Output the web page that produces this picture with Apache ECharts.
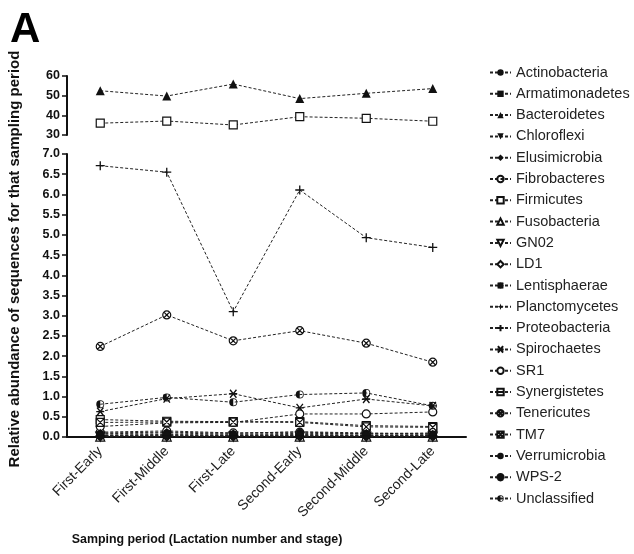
<!DOCTYPE html>
<html><head><meta charset="utf-8">
<script src="https://cdn.jsdelivr.net/npm/echarts@6/dist/echarts.min.js"></script>
<style>html,body{margin:0;padding:0;background:#fff}#c{width:634px;height:554px}</style>
</head><body><div id="c"></div>
<script>
const categories = ['First-Early','First-Middle','First-Late','Second-Early','Second-Middle','Second-Late'];
const upperTicks = [30, 40, 50, 60];
const lowerTicks = [0, 0.5, 1, 1.5, 2, 2.5, 3, 3.5, 4, 4.5, 5, 5.5, 6, 6.5, 7];

const Actinobacteria  = [0.05, 0.06, 0.05, 0.06, 0.05, 0.05];
const Armatimonadetes = [0.01, 0.01, 0.01, 0.01, 0.01, 0.01];
const Bacteroidetes   = [52.5, 49.8, 55.9, 48.5, 51.2, 53.6];
const Chloroflexi     = [0.03, 0.02, 0.03, 0.03, 0.02, 0.02];
const Elusimicrobia   = [0.02, 0.02, 0.02, 0.02, 0.02, 0.02];
const Fibrobacteres   = [0.12, 0.15, 0.10, 0.12, 0.08, 0.10];
const Firmicutes      = [36.0, 37.1, 35.1, 39.3, 38.5, 37.0];
const Fusobacteria    = [0.01, 0.01, 0.01, 0.01, 0.01, 0.01];
const GN02            = [0.01, 0.01, 0.01, 0.01, 0.01, 0.01];
const LD1             = [0.02, 0.02, 0.02, 0.02, 0.02, 0.02];
const Lentisphaerae   = [0.08, 0.10, 0.07, 0.09, 0.08, 0.07];
const Planctomycetes  = [0.04, 0.05, 0.04, 0.05, 0.04, 0.04];
const Proteobacteria  = [6.71, 6.55, 3.10, 6.11, 4.93, 4.69];
const Spirochaetes    = [0.63, 0.95, 1.07, 0.72, 0.94, 0.77];
const SR1             = [0.26, 0.35, 0.36, 0.57, 0.57, 0.62];
const Synergistetes   = [0.43, 0.39, 0.38, 0.38, 0.28, 0.26];
const Tenericutes     = [2.24, 3.02, 2.38, 2.63, 2.32, 1.85];
const TM7             = [0.36, 0.37, 0.37, 0.36, 0.25, 0.24];
const Verrumicrobia   = [0.10, 0.12, 0.09, 0.13, 0.10, 0.08];
const WPS2            = [0.03, 0.03, 0.03, 0.03, 0.03, 0.03];
const Unclassified    = [0.81, 0.98, 0.86, 1.05, 1.09, 0.77];

const C = 'path://M0,10A10,10 0 1,1 20,10A10,10 0 1,1 0,10Z';
const SQ = 'path://M0,0L20,0L20,20L0,20Z';
const FILLED = {color:'#111', borderColor:'#111', borderWidth:0};
const HOLLOW = {color:'#fff', borderColor:'#111', borderWidth:1.2};
const STROKE = {color:'rgba(0,0,0,0)', borderColor:'#111', borderWidth:1.3};

const seriesDefs = [
  ['Actinobacteria', Actinobacteria, 'circle', FILLED, 0, 8],
  ['Armatimonadetes', Armatimonadetes, 'rect', FILLED, 0, 8],
  ['Bacteroidetes', Bacteroidetes, 'triangle', FILLED, 0, 9],
  ['Chloroflexi', Chloroflexi, 'triangle', FILLED, 180, 9],
  ['Elusimicrobia', Elusimicrobia, 'diamond', FILLED, 0, 9],
  ['Fibrobacteres', Fibrobacteres, C + 'M10,10L20,10', HOLLOW, 0, 8],
  ['Firmicutes', Firmicutes, SQ, HOLLOW, 0, 8],
  ['Fusobacteria', Fusobacteria, 'triangle', HOLLOW, 0, 9],
  ['GN02', GN02, 'triangle', HOLLOW, 180, 9],
  ['LD1', LD1, 'diamond', HOLLOW, 0, 9],
  ['Lentisphaerae', Lentisphaerae, 'path://M4,4L16,4L16,16L4,16Z M10,0L10,20M0,10L20,10M2,2L18,18M18,2L2,18', {color:'#111', borderColor:'#111', borderWidth:1}, 0, 8],
  ['Planctomycetes', Planctomycetes, 'path://M10,0L12.5,7.5L20,10L12.5,12.5L10,20L7.5,12.5L0,10L7.5,7.5Z', FILLED, 0, 9],
  ['Proteobacteria', Proteobacteria, 'path://M10,0L10,20M0,10L20,10', STROKE, 0, 9],
  ['Spirochaetes', Spirochaetes, 'path://M2,2L18,18M18,2L2,18M0,10L20,10', STROKE, 0, 8],
  ['SR1', SR1, C, HOLLOW, 0, 8],
  ['Synergistetes', Synergistetes, SQ + 'M0,10L20,10', HOLLOW, 0, 8],
  ['Tenericutes', Tenericutes, C + 'M3,3L17,17M17,3L3,17', HOLLOW, 0, 8],
  ['TM7', TM7, SQ + 'M0,0L20,20M20,0L0,20', HOLLOW, 0, 8],
  ['Verrumicrobia', Verrumicrobia, 'path://M3,10A7,7 0 1,1 17,10A7,7 0 1,1 3,10Z M10,0L10,20M0,10L20,10', {color:'#111', borderColor:'#111', borderWidth:1}, 0, 8],
  ['WPS-2', WPS2, 'path://M0,10A10,10 0 0,1 20,10Z M0,10L20,10L18,10A8,8 0 0,1 2,10Z', {color:'#111', borderColor:'#111', borderWidth:1}, 0, 8],
  ['Unclassified', Unclassified, 'path://M10,0A10,10 0 0,0 10,20Z M10,0A10,10 0 0,1 10,20L10,18A8,8 0 0,0 10,2Z', FILLED, 0, 8]
];
const upperNames = ['Bacteroidetes', 'Firmicutes'];

const series = seriesDefs.map(d => {
  const up = upperNames.includes(d[0]);
  return {
    name: d[0], type: 'line', data: d[1],
    xAxisIndex: up ? 0 : 1, yAxisIndex: up ? 0 : 1,
    symbol: d[2], symbolSize: d[5], symbolRotate: d[4],
    itemStyle: d[3],
    lineStyle: {color: '#222', width: 1, type: [3, 2]},
    emphasis: {disabled: true}, animation: false
  };
});

const axisLbl = {color: '#111', fontWeight: 'bold', fontSize: 12.5, fontFamily: 'Liberation Sans', margin: 7};
const axLine = {show: true, lineStyle: {color: '#111', width: 2}};
const axTick = {show: true, inside: false, length: 5, lineStyle: {color: '#111', width: 1.5}};

const chart = echarts.init(document.getElementById('c'), null, {renderer: 'canvas'});
chart.setOption({
  backgroundColor: '#fff',
  animation: false,
  title: {text: 'A', left: 5, top: 4, textStyle: {fontSize: 42, fontWeight: 'bold', color: '#000', fontFamily: 'Liberation Sans'}},
  grid: [
    {left: 67, top: 76, width: 399, height: 59},
    {left: 67, top: 154, width: 399, height: 283}
  ],
  xAxis: [
    {type: 'category', gridIndex: 0, data: categories, show: false},
    {type: 'category', gridIndex: 1, data: categories, boundaryGap: true,
     axisLine: axLine,
     axisTick: {show: true, alignWithLabel: true, length: 4, lineStyle: {color: '#111', width: 1.5}},
     axisLabel: {rotate: 45, color: '#222', fontSize: 14, fontFamily: 'Liberation Sans', margin: 12, interval: 0}}
  ],
  yAxis: [
    {type: 'value', gridIndex: 0, min: upperTicks[0], max: upperTicks[upperTicks.length - 1], interval: 10,
     axisLine: axLine, axisTick: axTick, splitLine: {show: false}, axisLabel: axisLbl},
    {type: 'value', gridIndex: 1, min: lowerTicks[0], max: lowerTicks[lowerTicks.length - 1], interval: 0.5,
     axisLine: axLine, axisTick: axTick, splitLine: {show: false},
     axisLabel: Object.assign({}, axisLbl, {formatter: v => v.toFixed(1)})}
  ],
  legend: {
    orient: 'vertical', left: 484, top: 60,
    itemWidth: 21, itemHeight: 8, itemGap: 6.3,
    textStyle: {fontSize: 14.5, color: '#222', fontFamily: 'Liberation Sans', lineHeight: 15},
    data: seriesDefs.map(d => d[0]),
    selectedMode: false
  },
  graphic: [
    {type: 'text', x: 15, y: 259, rotation: Math.PI / 2,
     style: {text: 'Relative abundance of sequences for that sampling period', fontSize: 15, fontWeight: 'bold',
             fontFamily: 'Liberation Sans', fill: '#111', textAlign: 'center', textVerticalAlign: 'middle'}},
    {type: 'text', x: 207, y: 540,
     style: {text: 'Samping period (Lactation number and stage)', fontSize: 12.4, fontWeight: 'bold',
             fontFamily: 'Liberation Sans', fill: '#111', textAlign: 'center', textVerticalAlign: 'middle'}}
  ],
  series: series
});
</script></body></html>
